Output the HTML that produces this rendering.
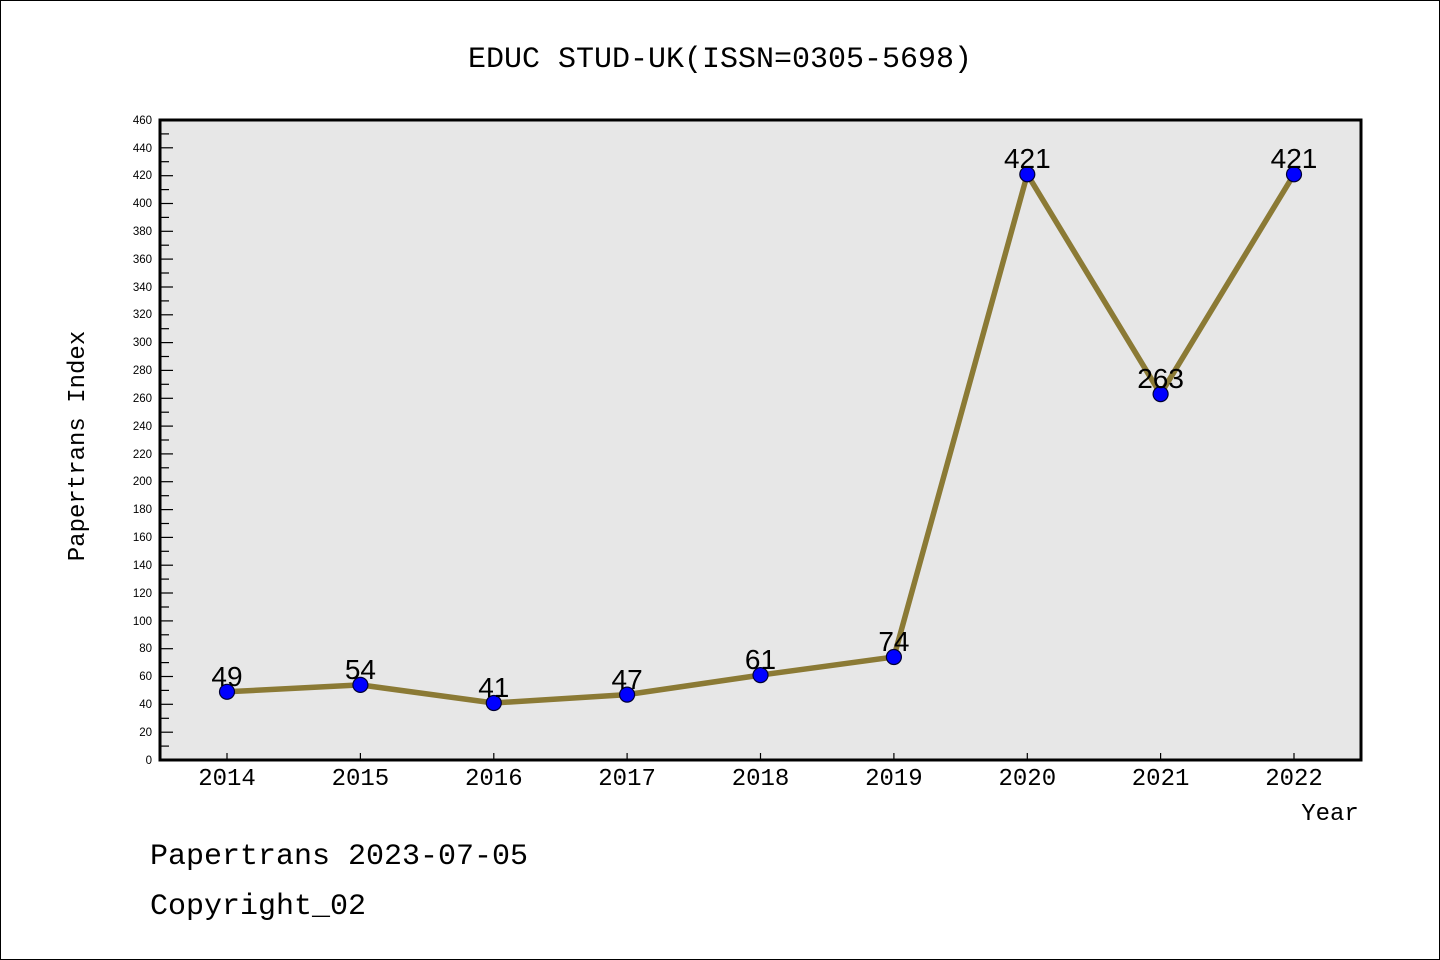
<!DOCTYPE html>
<html><head><meta charset="utf-8"><style>
html,body{margin:0;padding:0;background:#fff;}
svg{display:block;}
</style></head><body>
<svg width="1440" height="960" xmlns="http://www.w3.org/2000/svg">
<rect x="0.5" y="0.5" width="1439" height="959" fill="#fff" stroke="#000" stroke-width="1"/>
<text x="720" y="67" text-anchor="middle" font-family="Liberation Mono, monospace" font-size="30" fill="#000">EDUC STUD-UK(ISSN=0305-5698)</text>
<rect x="160" y="120" width="1201" height="640" fill="#e7e7e7"/>
<g font-family="Liberation Mono, monospace" font-size="24" fill="#000" text-anchor="middle">
<text x="227" y="785">2014</text><text x="360.4" y="785">2015</text><text x="493.8" y="785">2016</text><text x="627.1" y="785">2017</text><text x="760.5" y="785">2018</text><text x="893.9" y="785">2019</text><text x="1027.3" y="785">2020</text><text x="1160.6" y="785">2021</text><text x="1294" y="785">2022</text>
</g>
<g stroke="#000" stroke-width="1.2">
<line x1="227" y1="760" x2="227" y2="753"/><line x1="360.4" y1="760" x2="360.4" y2="753"/><line x1="493.8" y1="760" x2="493.8" y2="753"/><line x1="627.1" y1="760" x2="627.1" y2="753"/><line x1="760.5" y1="760" x2="760.5" y2="753"/><line x1="893.9" y1="760" x2="893.9" y2="753"/><line x1="1027.3" y1="760" x2="1027.3" y2="753"/><line x1="1160.6" y1="760" x2="1160.6" y2="753"/><line x1="1294" y1="760" x2="1294" y2="753"/>
</g>
<rect x="160" y="120" width="1201" height="640" fill="none" stroke="#000" stroke-width="3"/>
<text x="1330" y="820" text-anchor="middle" font-family="Liberation Mono, monospace" font-size="24">Year</text>
<text transform="translate(84,446) rotate(-90)" text-anchor="middle" font-family="Liberation Mono, monospace" font-size="24">Papertrans Index</text>
<polyline fill="none" stroke="#8b7a35" stroke-width="5.5" stroke-linejoin="round" points="227,691.8 360.4,684.9 493.8,703 627.1,694.6 760.5,675.1 893.9,657 1027.3,174.3 1160.6,394.1 1294,174.3"/>
<g fill="#0000ff" stroke="#000033" stroke-width="1.2">
<circle cx="227" cy="691.8" r="7.5"/><circle cx="360.4" cy="684.9" r="7.5"/><circle cx="493.8" cy="703" r="7.5"/><circle cx="627.1" cy="694.6" r="7.5"/><circle cx="760.5" cy="675.1" r="7.5"/><circle cx="893.9" cy="657" r="7.5"/><circle cx="1027.3" cy="174.3" r="7.5"/><circle cx="1160.6" cy="394.1" r="7.5"/><circle cx="1294" cy="174.3" r="7.5"/>
</g>
<g font-family="Liberation Sans, sans-serif" font-size="28" fill="#000" text-anchor="middle">
<text x="227" y="686">49</text><text x="360.4" y="679">54</text><text x="493.8" y="697">41</text><text x="627.1" y="689">47</text><text x="760.5" y="669">61</text><text x="893.9" y="651">74</text><text x="1027.3" y="168">421</text><text x="1160.6" y="388">263</text><text x="1294" y="168">421</text>
</g>
<text x="150" y="864" font-family="Liberation Mono, monospace" font-size="30">Papertrans 2023-07-05</text>
<text x="150" y="914" font-family="Liberation Mono, monospace" font-size="30">Copyright_02</text>
<g stroke="#000" stroke-width="1.2">
<line x1="160" y1="760" x2="173" y2="760"/><line x1="160" y1="746.1" x2="169" y2="746.1"/><line x1="160" y1="732.2" x2="173" y2="732.2"/><line x1="160" y1="718.3" x2="169" y2="718.3"/><line x1="160" y1="704.3" x2="173" y2="704.3"/><line x1="160" y1="690.4" x2="169" y2="690.4"/><line x1="160" y1="676.5" x2="173" y2="676.5"/><line x1="160" y1="662.6" x2="169" y2="662.6"/><line x1="160" y1="648.7" x2="173" y2="648.7"/><line x1="160" y1="634.8" x2="169" y2="634.8"/><line x1="160" y1="620.9" x2="173" y2="620.9"/><line x1="160" y1="607" x2="169" y2="607"/><line x1="160" y1="593" x2="173" y2="593"/><line x1="160" y1="579.1" x2="169" y2="579.1"/><line x1="160" y1="565.2" x2="173" y2="565.2"/><line x1="160" y1="551.3" x2="169" y2="551.3"/><line x1="160" y1="537.4" x2="173" y2="537.4"/><line x1="160" y1="523.5" x2="169" y2="523.5"/><line x1="160" y1="509.6" x2="173" y2="509.6"/><line x1="160" y1="495.7" x2="169" y2="495.7"/><line x1="160" y1="481.7" x2="173" y2="481.7"/><line x1="160" y1="467.8" x2="169" y2="467.8"/><line x1="160" y1="453.9" x2="173" y2="453.9"/><line x1="160" y1="440" x2="169" y2="440"/><line x1="160" y1="426.1" x2="173" y2="426.1"/><line x1="160" y1="412.2" x2="169" y2="412.2"/><line x1="160" y1="398.3" x2="173" y2="398.3"/><line x1="160" y1="384.3" x2="169" y2="384.3"/><line x1="160" y1="370.4" x2="173" y2="370.4"/><line x1="160" y1="356.5" x2="169" y2="356.5"/><line x1="160" y1="342.6" x2="173" y2="342.6"/><line x1="160" y1="328.7" x2="169" y2="328.7"/><line x1="160" y1="314.8" x2="173" y2="314.8"/><line x1="160" y1="300.9" x2="169" y2="300.9"/><line x1="160" y1="287" x2="173" y2="287"/><line x1="160" y1="273" x2="169" y2="273"/><line x1="160" y1="259.1" x2="173" y2="259.1"/><line x1="160" y1="245.2" x2="169" y2="245.2"/><line x1="160" y1="231.3" x2="173" y2="231.3"/><line x1="160" y1="217.4" x2="169" y2="217.4"/><line x1="160" y1="203.5" x2="173" y2="203.5"/><line x1="160" y1="189.6" x2="169" y2="189.6"/><line x1="160" y1="175.7" x2="173" y2="175.7"/><line x1="160" y1="161.7" x2="169" y2="161.7"/><line x1="160" y1="147.8" x2="173" y2="147.8"/><line x1="160" y1="133.9" x2="169" y2="133.9"/>
</g>
<g font-family="Liberation Sans, sans-serif" font-size="11.5" fill="#000" text-anchor="end">
<text x="152" y="764">0</text><text x="152" y="736">20</text><text x="152" y="708">40</text><text x="152" y="680">60</text><text x="152" y="652">80</text><text x="152" y="625">100</text><text x="152" y="597">120</text><text x="152" y="569">140</text><text x="152" y="541">160</text><text x="152" y="513">180</text><text x="152" y="485">200</text><text x="152" y="458">220</text><text x="152" y="430">240</text><text x="152" y="402">260</text><text x="152" y="374">280</text><text x="152" y="346">300</text><text x="152" y="318">320</text><text x="152" y="291">340</text><text x="152" y="263">360</text><text x="152" y="235">380</text><text x="152" y="207">400</text><text x="152" y="179">420</text><text x="152" y="152">440</text><text x="152" y="124">460</text>
</g>
</svg>
</body></html>
